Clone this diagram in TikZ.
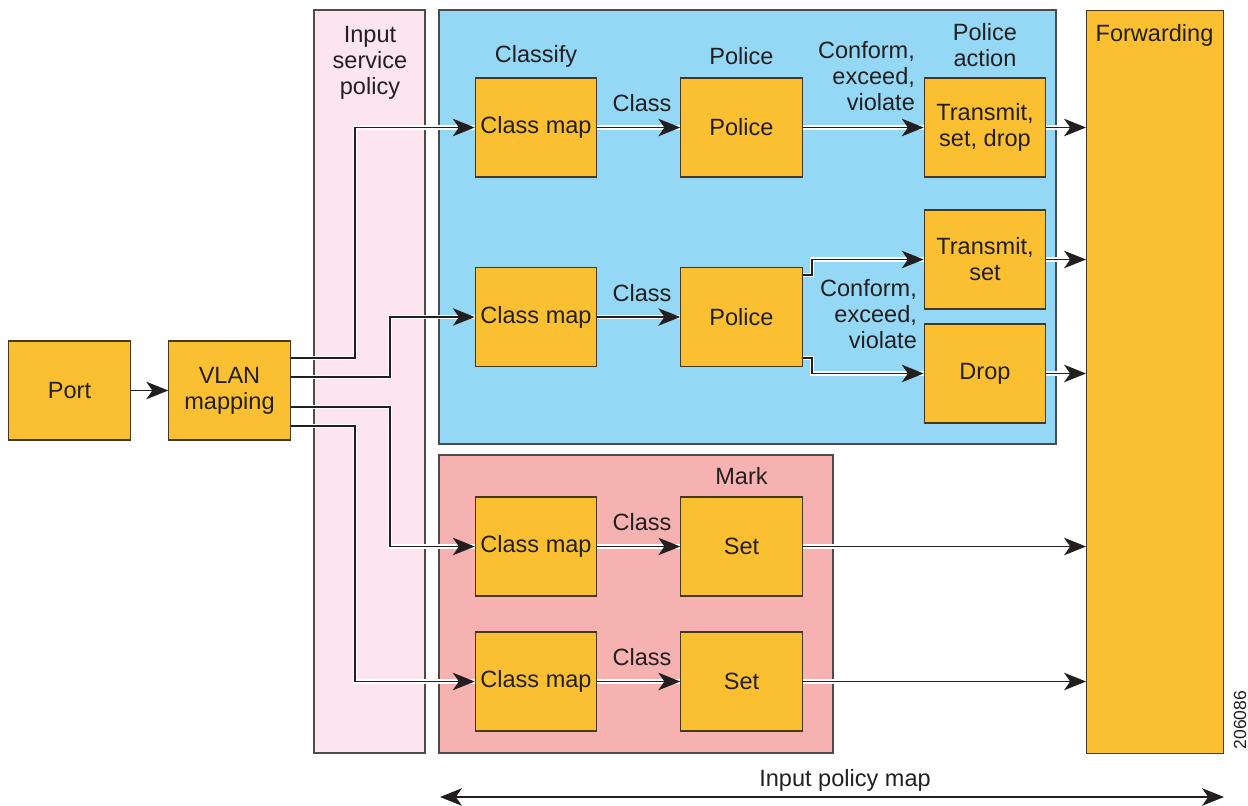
\documentclass[tikz,border=0pt]{standalone}
\usepackage{fontspec}
\setmainfont{Liberation Sans}
\usetikzlibrary{arrows,arrows.meta}

\definecolor{boxorange}{RGB}{251,192,50}
\definecolor{boxline}{RGB}{70,55,30}
\definecolor{policyblue}{RGB}{149,216,245}
\definecolor{inputpink}{RGB}{252,229,239}
\definecolor{markpink}{RGB}{246,178,176}
\definecolor{inkgray}{RGB}{35,31,32}

\begin{document}
\begin{tikzpicture}[
x=0.02cm, y=-0.02cm,
font=\fontsize{13.4}{14.8}\selectfont,
every node/.style={text=inkgray},
box/.style={draw=boxline, fill=boxorange, line width=0.6pt, minimum width=2.43cm, minimum height=1.98cm, align=center, inner sep=1pt},
region/.style={draw=gray!60!black, line width=0.6pt},
txt/.style={align=center, inner sep=1pt},
arrow/.style={-{Stealth[length=12.5pt,width=10pt,inset=3.5pt]}, line width=0.7pt, draw=inkgray, preaction={draw=white, line width=2.6pt, -}},
span/.style={{Stealth[length=12.5pt,width=10pt,inset=3.5pt]}-{Stealth[length=12.5pt,width=10pt,inset=3.5pt]}, line width=0.7pt, draw=inkgray} ]

\useasboundingbox (0,0) rectangle (1248,805);

% background regions
\draw[region, fill=inputpink] (314,10) rectangle (425,753);
\draw[region, fill=policyblue] (439,10) rectangle (1056,444);
\draw[region, fill=markpink] (439,455) rectangle (833,753);

\node[box, minimum width=2.74cm, minimum height=14.86cm, anchor=north west] (fwd) at (1086,10) {};

\node[box] (port) at (69.5,390.5) {Port};

\node[box] (vlan) at (229.5,390.5) {VLAN\\mapping};

\node[box] (cm1) at (536,127.5) {Class map};

\node[box] (police1) at (741.5,127.5) {Police};

\node[box] (tsd) at (985,127.5) {Transmit,\\set, drop};

\node[box] (cm2) at (536,317) {Class map};

\node[box] (police2) at (741.5,317) {Police};

\node[box] (tset) at (985,259.5) {Transmit,\\set};

\node[box] (drop) at (985,373.5) {Drop};

\node[box] (cm3) at (536,546.5) {Class map};

\node[box] (set3) at (741.5,546.5) {Set};

\node[box] (cm4) at (536,681.5) {Class map};

\node[box] (set4) at (741.5,681.5) {Set};

% texts
\node[txt] (inpol) at (370,63) {Input\\service\\policy};

\node[txt] (classify) at (536,56) {Classify};

\node[txt] (policehd) at (741.5,56) {Police};

\node[txt, align=right, anchor=east] (cev1) at (917,76) {Conform,\\exceed,\\violate};

\node[txt] (polact) at (985,45) {Police\\action};

\node[txt] (fwdtxt) at (1154.5,35) {Forwarding};

\node[txt, align=right, anchor=east] (cev2) at (919,314) {Conform,\\exceed,\\violate};

\node[txt] (mark) at (741.5,476) {Mark};

\node[txt] (cl1) at (642,103) {Class};

\node[txt] (cl2) at (642,293) {Class};

\node[txt] (cl3) at (642,522) {Class};

\node[txt] (cl4) at (642,657) {Class};

\node[txt] (ipm) at (845,780) {Input policy map};

\node[txt, rotate=90, font=\fontsize{10}{12}\selectfont] (fignum) at (1240,720) {206086};

\coordinate (spanL) at (440,797);
\coordinate (spanR) at (1224,797);

% connectors
\draw[arrow] (port) -- (vlan);

\draw[arrow] (vlan.east |- 0,358) -| (cm1.west -| 355,0) -- (cm1.west);

\draw[arrow] (vlan.east |- 0,377) -| (cm2.west -| 390,0) -- (cm2.west);

\draw[arrow] (vlan.east |- 0,407) -| (cm3.west -| 390,0) -- (cm3.west);

\draw[arrow] (vlan.east |- 0,426) -| (cm4.west -| 355,0) -- (cm4.west);

\draw[arrow] (cm1) -- (police1);

\draw[arrow] (police1) -- (tsd);

\draw[arrow] (cm2) -- (police2);

\draw[arrow] (police2.east |- 0,275) -| (tset.west -| 812,0) -- (tset.west);

\draw[arrow] (police2.east |- 0,358) -| (drop.west -| 812,0) -- (drop.west);

\draw[arrow] (cm3) -- (set3);

\draw[arrow] (cm4) -- (set4);

\draw[arrow] (tsd.east) -- (tsd.east -| fwd.west);

\draw[arrow] (tset.east) -- (tset.east -| fwd.west);

\draw[arrow] (drop.east) -- (drop.east -| fwd.west);

\draw[arrow] (set3.east) -- (set3.east -| fwd.west);

\draw[arrow] (set4.east) -- (set4.east -| fwd.west);

\draw[span] (spanL) -- (spanR);

\end{tikzpicture}
\end{document}
